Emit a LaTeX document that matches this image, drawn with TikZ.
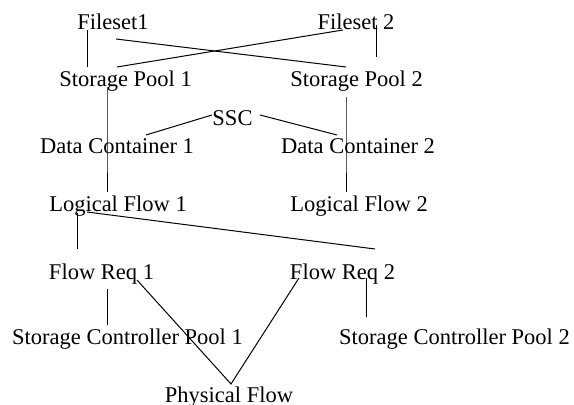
\documentclass[tikz,border=0pt]{standalone}
\usepackage{fontspec}
\setmainfont{Liberation Serif}
\usetikzlibrary{positioning, calc}

\begin{document}
\begin{tikzpicture}[
    x=0.5pt, y=-0.5pt,
    every node/.style={font=\fontsize{11.25}{13}\selectfont},
    lbl/.style={anchor=base, inner sep=0pt},
    link/.style={black, line width=0.5pt},
]
\useasboundingbox (0,0) rectangle (574,405);

% ============================================================
% Filesets and storage pools
% ============================================================
\node[lbl] (fs1) at (113, 30) {Fileset1};
\node[lbl] (fs2) at (356, 30) {Fileset 2};
\node[lbl] (sp1) at (125.5, 87) {Storage Pool 1};
\node[lbl] (sp2) at (356.5, 87) {Storage Pool 2};
% Fileset -> pool (straight and crossed)
\draw[link] ([shift={(-26,0)}]fs1.base) -- ([shift={(-38.5,-20)}]sp1.base);
\draw[link] ([shift={(3,9)}]fs1.base) -- ([shift={(-10.5,-20)}]sp2.base);
\draw[link] ([shift={(-8.5,-20)}]sp1.base) -- ([shift={(-13,0)}]fs2.base);
\draw[link] ([shift={(20,-5)}]fs2.base) -- ([shift={(19.5,-30)}]sp2.base);

% ============================================================
% SSC, data containers and logical flows
% ============================================================
\node[lbl] (ssc) at (232.5, 126) {SSC};
\node[lbl] (dc1) at (117, 154) {Data Container 1};
\node[lbl] (dc2) at (358, 154) {Data Container 2};
\node[lbl] (lf1) at (118, 212) {Logical Flow 1};
\node[lbl] (lf2) at (359, 212) {Logical Flow 2};
% SSC to both containers
\draw[link] ([shift={(-20.5,-11)}]ssc.base) -- ([shift={(29,-19)}]dc1.base);
\draw[link] ([shift={(27.5,-11)}]ssc.base) -- ([shift={(-21,-19)}]dc2.base);
% Pool -> container -> logical flow (one straight run each)
\draw[link] ([shift={(-18.5,0)}]sp1.base) -- ([shift={(-10,0)}]dc1.base)
    -- ([shift={(-11,-20)}]lf1.base);
\draw[link] ([shift={(-10.5,10)}]sp2.base) -- ([shift={(-12,0)}]dc2.base)
    -- ([shift={(-13,-20)}]lf2.base);

% ============================================================
% Flow requests, controller pools and physical flow
% ============================================================
\node[lbl] (fr1) at (101.5, 280) {Flow Req 1};
\node[lbl] (fr2) at (342.5, 280) {Flow Req 2};
\node[lbl] (scp1) at (127.5, 345) {Storage Controller Pool 1};
\node[lbl] (scp2) at (454.5, 345) {Storage Controller Pool 2};
\node[lbl] (pf) at (229, 403) {Physical Flow};
% Logical flow 1 -> both requests
\draw[link] ([shift={(-41,1)}]lf1.base) -- ([shift={(-24.5,-31)}]fr1.base);
\draw[link] ([shift={(-31,0)}]lf1.base) -- ([shift={(32.5,-31)}]fr2.base);
% Requests -> controller pools
\draw[link] ([shift={(5.5,9)}]fr1.base) -- ([shift={(-20.5,-20)}]scp1.base);
\draw[link] ([shift={(23.5,-2)}]fr2.base) -- ([shift={(-88.5,-28)}]scp2.base);
% Requests -> physical flow (V shape)
\draw[link] ([shift={(35.5,0)}]fr1.base) -- ([shift={(2,-19)}]pf.base)
    -- ([shift={(-43.5,-2)}]fr2.base);

\end{tikzpicture}
\end{document}
